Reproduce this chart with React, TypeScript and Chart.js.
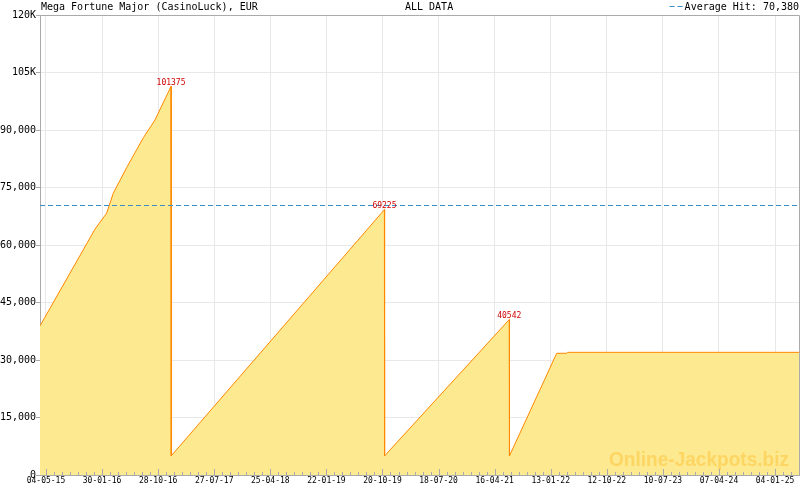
import { useEffect, useRef } from 'react';
import { Chart, registerables } from 'chart.js';

Chart.register(...registerables);

const TITLE = 'Mega Fortune Major (CasinoLuck), EUR';
const PERIOD = 'ALL DATA';
const AVERAGE_LABEL = 'Average Hit: 70,380';
const WATERMARK = 'Online-Jackpots.biz';
const averageHit = 70380;

// x values: days since 04-05-15
const days = [-29, 237, 294, 326, 391, 472, 528, 606, 607, 1640, 1641, 2245, 2246, 2475, 2523, 2527, 3649];
const jackpot = [38900, 64100, 68300, 73500, 80200, 88000, 92600, 101375, 5000, 69225, 5000, 40542, 5000, 31750, 31750, 32000, 32000];

const xTickLabels = ['04-05-15', '30-01-16', '28-10-16', '27-07-17', '25-04-18', '22-01-19', '20-10-19', '18-07-20', '16-04-21', '13-01-22', '12-10-22', '10-07-23', '07-04-24', '04-01-25'];
const xTickStepDays = 3533 / 13;
const xMinorPerMajor = 7;
const yTickLabels = ['0', '15,000', '30,000', '45,000', '60,000', '75,000', '90,000', '105K', '120K'];

const MONO = '"DejaVu Sans Mono"';
const AXIS_GREY = '#aaaaaa';
const GRID = '#e8e8e8';

const overlayPlugin = {
  id: 'overlay',
  afterDatasetsDraw(chart: any) {
    const { ctx, chartArea: a, scales } = chart;
    const x = scales.x;
    const y = scales.y;
    ctx.save();

    // watermark
    ctx.font = 'bold 21px "Liberation Sans"';
    const w = ctx.measureText(WATERMARK).width;
    ctx.translate(a.right - 10, a.bottom - 9);
    ctx.scale(180 / w, 1);
    ctx.fillStyle = 'rgba(255,170,0,0.3)';
    ctx.textAlign = 'right';
    ctx.textBaseline = 'alphabetic';
    ctx.fillText(WATERMARK, 0, 0);
    ctx.setTransform(1, 0, 0, 1, 0, 0);

    // average line
    const ay = Math.round(y.getPixelForValue(averageHit)) + 0.5;
    ctx.strokeStyle = '#3a8fc4';
    ctx.lineWidth = 1;
    ctx.setLineDash([5, 3]);
    ctx.beginPath();
    ctx.moveTo(a.left, ay);
    ctx.lineTo(a.right, ay);
    ctx.stroke();
    ctx.setLineDash([]);

    // x tick marks drawn upward
    ctx.strokeStyle = AXIS_GREY;
    const minor = xTickStepDays / xMinorPerMajor;
    const start = Math.ceil(x.min / minor);
    for (let i = start; i * minor <= x.max; i++) {
      const px = Math.round(x.getPixelForValue(i * minor)) + 0.5;
      const len = i % xMinorPerMajor === 0 ? 6 : 3;
      ctx.beginPath();
      ctx.moveTo(px, a.bottom);
      ctx.lineTo(px, a.bottom - len);
      ctx.stroke();
    }

    // peak labels
    ctx.font = `8px ${MONO}`;
    ctx.fillStyle = '#d00000';
    ctx.textAlign = 'center';
    ctx.textBaseline = 'alphabetic';
    for (let i = 0; i < jackpot.length - 1; i++) {
      if (jackpot[i + 1] < jackpot[i] - 20000) {
        const px = x.getPixelForValue(days[i]);
        const py = y.getPixelForValue(jackpot[i]);
        ctx.fillText(String(jackpot[i]), px, py - 1.5);
      }
    }

    // frame top and right
    ctx.strokeStyle = AXIS_GREY;
    ctx.beginPath();
    ctx.moveTo(a.left, a.top + 0.5);
    ctx.lineTo(a.right + 0.5, a.top + 0.5);
    ctx.lineTo(a.right + 0.5, a.bottom);
    ctx.stroke();
    ctx.restore();
  },
  afterDraw(chart: any) {
    const { ctx } = chart;
    ctx.save();
    ctx.font = `10px ${MONO}`;
    ctx.fillStyle = '#000';
    ctx.textBaseline = 'alphabetic';
    ctx.textAlign = 'left';
    ctx.fillText(TITLE, 41, 10);
    ctx.fillText(PERIOD, 405, 10);
    ctx.textAlign = 'right';
    ctx.fillText(AVERAGE_LABEL, 799, 10);
    const tw = ctx.measureText(AVERAGE_LABEL).width;
    const endX = 799 - tw - 2;
    ctx.strokeStyle = '#3a8fc4';
    ctx.lineWidth = 1;
    ctx.beginPath();
    ctx.moveTo(endX - 13, 6.5);
    ctx.lineTo(endX - 8, 6.5);
    ctx.moveTo(endX - 5, 6.5);
    ctx.lineTo(endX, 6.5);
    ctx.stroke();
    ctx.restore();
  },
};

export default function App() {
  const ref = useRef<HTMLCanvasElement | null>(null);

  useEffect(() => {
    if (!ref.current) return;
    const chart = new Chart(ref.current, {
      type: 'line',
      data: {
        datasets: [
          {
            data: days.map((d, i) => ({ x: d, y: jackpot[i] })),
            borderColor: '#ff8800',
            borderWidth: 1,
            backgroundColor: '#fde98f',
            fill: 'origin',
            pointRadius: 0,
            tension: 0,
          },
        ],
      },
      options: {
        animation: false,
        responsive: false,
        devicePixelRatio: 1,
        layout: { padding: { top: 15, right: 1, left: 0, bottom: 0 } },
        plugins: { legend: { display: false }, tooltip: { enabled: false }, title: { display: false } },
        scales: {
          x: {
            type: 'linear',
            min: days[0],
            max: days[days.length - 1],
            afterBuildTicks: (scale: any) => {
              scale.ticks = xTickLabels.map((_, k) => ({ value: k * xTickStepDays }));
            },
            afterFit: (scale: any) => {
              scale.height = 15;
            },
            grid: { color: GRID, drawTicks: false },
            border: { color: AXIS_GREY },
            ticks: {
              autoSkip: false,
              maxRotation: 0,
              padding: 1,
              color: '#000',
              font: { family: MONO, size: 8 },
              callback: (_v: any, i: number) => xTickLabels[i],
            },
          },
          y: {
            min: 0,
            max: 120000,
            afterFit: (scale: any) => {
              scale.width = 40;
            },
            grid: { color: GRID, tickLength: 4, tickColor: AXIS_GREY },
            border: { color: AXIS_GREY },
            ticks: {
              stepSize: 15000,
              padding: 0,
              color: '#000',
              font: { family: MONO, size: 10 },
              callback: (_v: any, i: number) => yTickLabels[i],
            },
          },
        },
      },
      plugins: [overlayPlugin],
    });
    return () => chart.destroy();
  }, []);

  return (
    <div style={{ position: 'fixed', left: 0, top: 0, width: 800, height: 490, background: '#fff' }}>
      <canvas ref={ref} width={800} height={490} style={{ display: 'block' }} />
    </div>
  );
}
